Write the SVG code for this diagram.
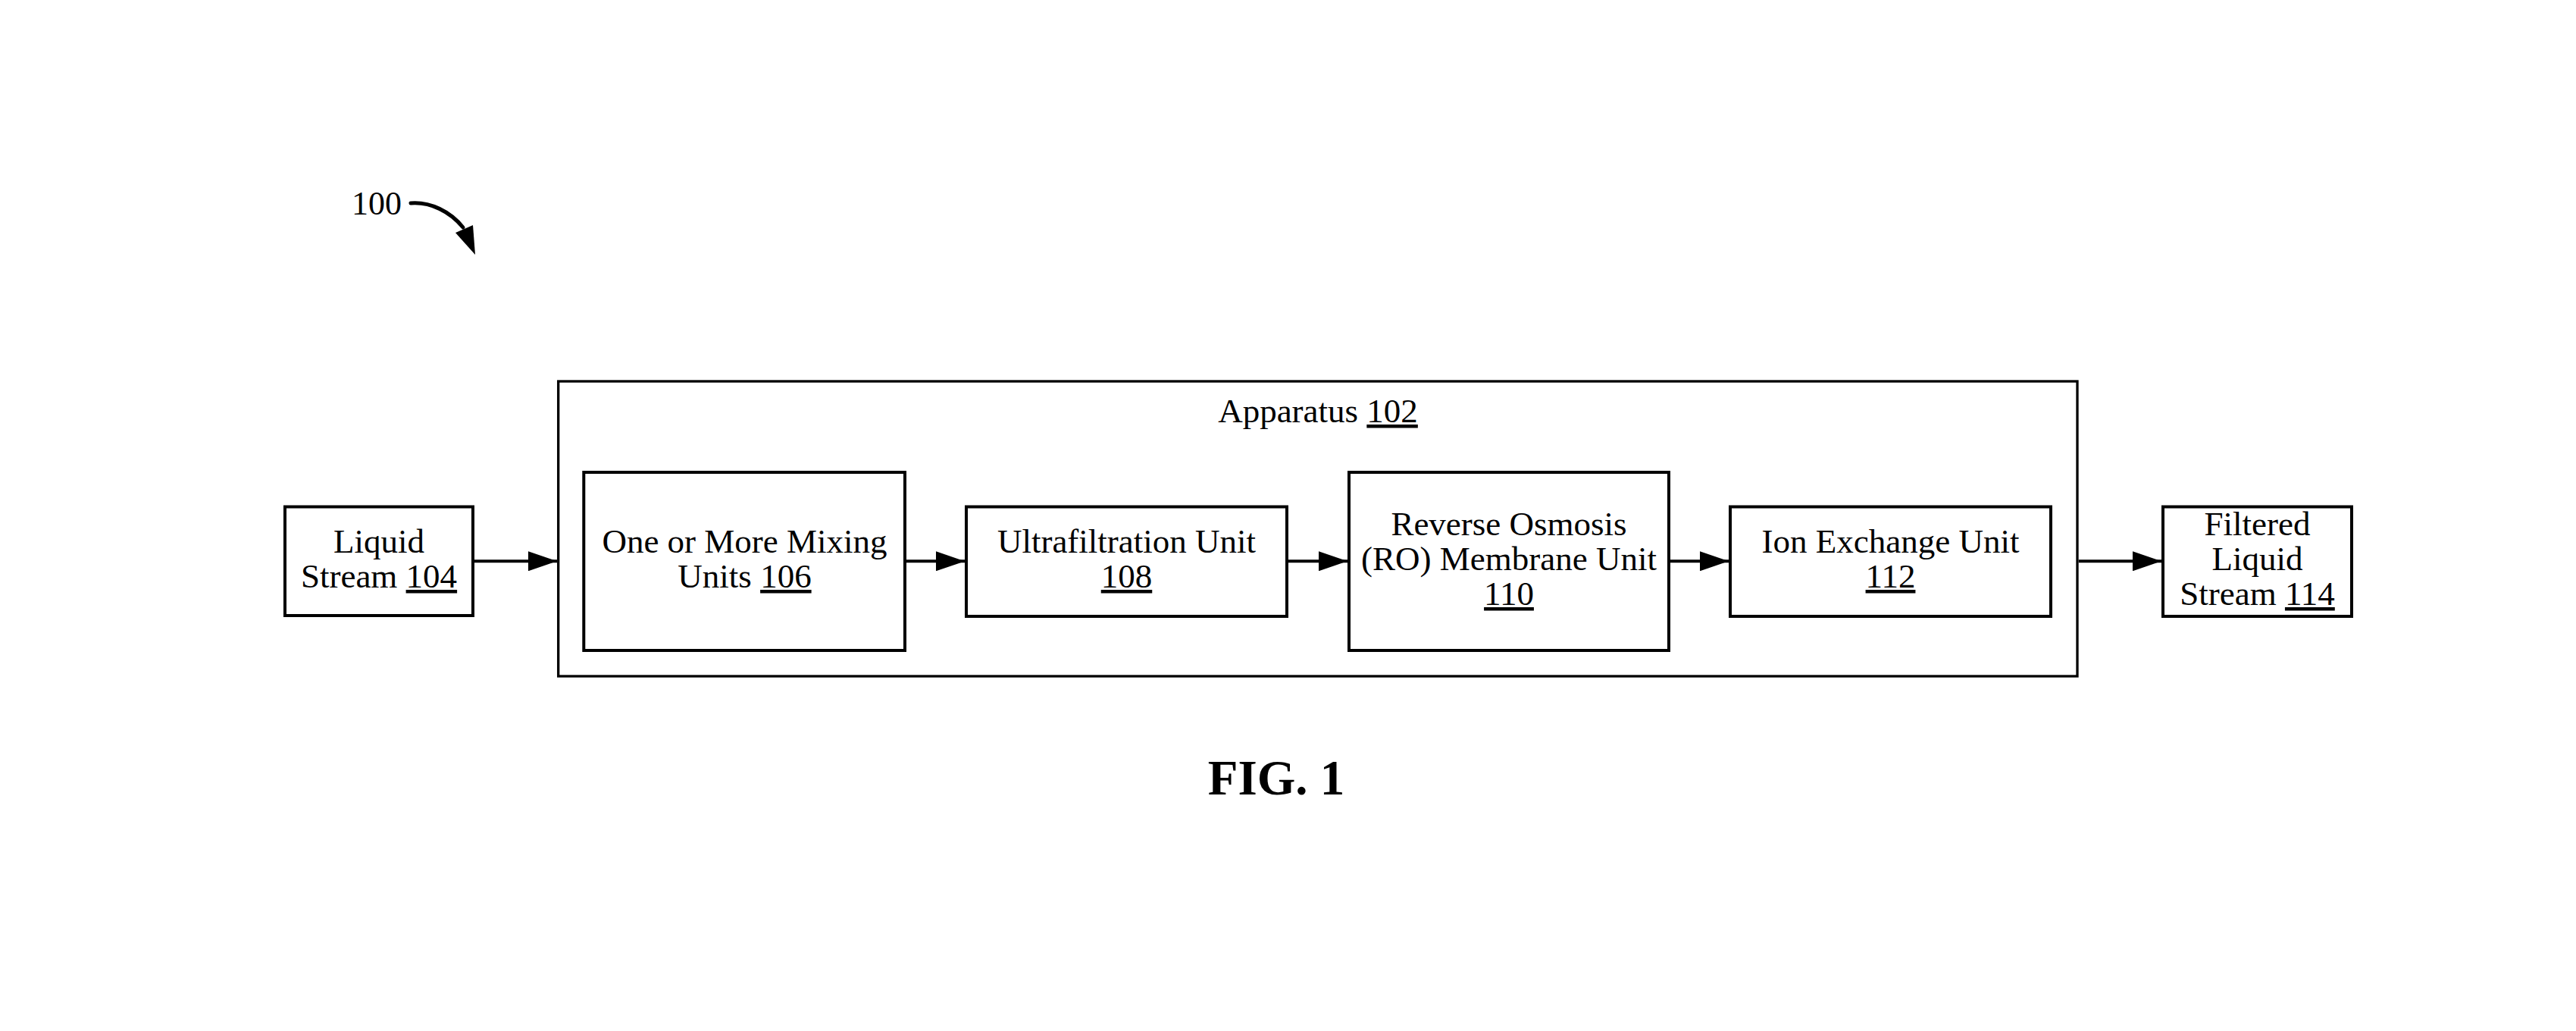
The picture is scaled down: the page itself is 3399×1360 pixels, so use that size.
<svg xmlns="http://www.w3.org/2000/svg" width="3399" height="1360" viewBox="0 0 3399 1360">
  <style>
    .box { fill: #ffffff; stroke: #000000; stroke-width: 4; }
    .outer { fill: none; stroke: #000000; stroke-width: 3.3; }
    .lbl { font-family: "Liberation Serif", "Times New Roman", serif; font-size: 45px; fill: #000000; text-anchor: middle; }
    .ref { text-decoration: underline; }
    .conn { stroke: #000000; stroke-width: 4; fill: none; }
    .fig { font-family: "Liberation Serif", "Times New Roman", serif; font-size: 65px; font-weight: bold; fill: #000000; text-anchor: middle; }
  </style>
  <defs>
    <marker id="arrow" markerUnits="userSpaceOnUse" markerWidth="38" markerHeight="26" refX="38" refY="13" orient="auto">
      <path d="M0,0 L38,13 L0,26 z" fill="#000000"/>
    </marker>
  </defs>
  <rect x="0" y="0" width="3399" height="1360" fill="#ffffff"/>

  <g id="label-100">
    <text x="464" y="283" style="font-family: 'Liberation Serif', 'Times New Roman', serif; font-size: 44px;">100</text>
    <path d="M542,268 C568,266 594,279 611,300" stroke="#000000" stroke-width="5" fill="none" stroke-linecap="round"/>
    <path d="M601,307 L624,297 L627,336 z" fill="#000000"/>
  </g>

  <g id="apparatus-102">
    <rect class="outer" x="736.7" y="503" width="2004.3" height="389"/>
    <text class="lbl" x="1739" y="557">Apparatus <tspan class="ref">102</tspan></text>
  </g>

  <g id="liquid-stream-104">
    <rect class="box" x="376" y="668.5" width="248" height="143.5"/>
    <text class="lbl" x="500" y="729">Liquid</text>
    <text class="lbl" x="500" y="775">Stream <tspan class="ref">104</tspan></text>
  </g>

  <g id="mixing-units-106">
    <rect class="box" x="770.3" y="623" width="423.7" height="235"/>
    <text class="lbl" x="982.5" y="729">One or More Mixing</text>
    <text class="lbl" x="982.5" y="775">Units <tspan class="ref">106</tspan></text>
  </g>

  <g id="ultrafiltration-108">
    <rect class="box" x="1275" y="668.5" width="423" height="144.5"/>
    <text class="lbl" x="1486.5" y="729">Ultrafiltration Unit</text>
    <text class="lbl" x="1486.5" y="775"><tspan class="ref">108</tspan></text>
  </g>

  <g id="ro-membrane-110">
    <rect class="box" x="1780" y="623" width="422" height="235"/>
    <text class="lbl" x="1991" y="706">Reverse Osmosis</text>
    <text class="lbl" x="1991" y="752">(RO) Membrane Unit</text>
    <text class="lbl" x="1991" y="798"><tspan class="ref">110</tspan></text>
  </g>

  <g id="ion-exchange-112">
    <rect class="box" x="2283" y="668.5" width="423" height="144.5"/>
    <text class="lbl" x="2494.5" y="729">Ion Exchange Unit</text>
    <text class="lbl" x="2494.5" y="775"><tspan class="ref">112</tspan></text>
  </g>

  <g id="filtered-stream-114">
    <rect class="box" x="2854" y="668.5" width="249" height="144.5"/>
    <text class="lbl" x="2978.5" y="706">Filtered</text>
    <text class="lbl" x="2978.5" y="752">Liquid</text>
    <text class="lbl" x="2978.5" y="798">Stream <tspan class="ref">114</tspan></text>
  </g>

  <g id="connectors">
    <line class="conn" x1="626" y1="740.3" x2="735" y2="740.3" marker-end="url(#arrow)"/>
    <line class="conn" x1="1196" y1="740.3" x2="1273" y2="740.3" marker-end="url(#arrow)"/>
    <line class="conn" x1="1700" y1="740.3" x2="1778" y2="740.3" marker-end="url(#arrow)"/>
    <line class="conn" x1="2204" y1="740.3" x2="2281" y2="740.3" marker-end="url(#arrow)"/>
    <line class="conn" x1="2742.7" y1="740.3" x2="2852" y2="740.3" marker-end="url(#arrow)"/>
  </g>

  <g id="caption">
    <text class="fig" x="1684" y="1048">FIG. 1</text>
  </g>
</svg>
